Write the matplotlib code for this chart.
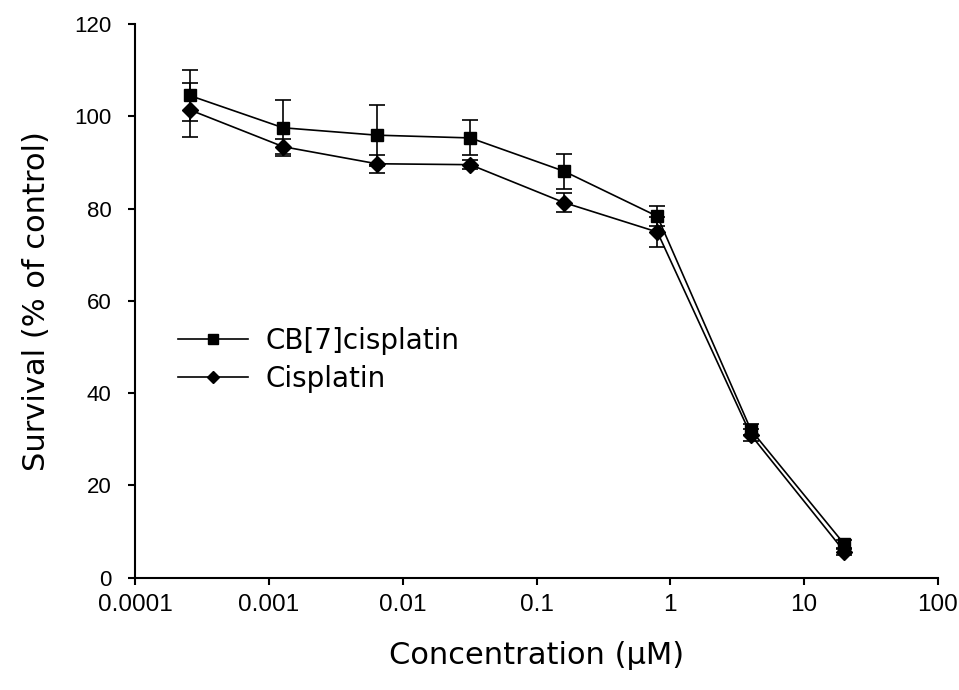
import matplotlib
matplotlib.use("Agg")
import matplotlib.pyplot as plt
from matplotlib.ticker import FixedLocator, FixedFormatter, NullLocator

conc = [0.000256, 0.00128, 0.0064, 0.032, 0.16, 0.8, 4, 20]
cb7_mean = [104.5, 97.5, 95.9, 95.3, 88.1, 78.3, 32.0, 7.2]
cb7_err = [5.5, 6.1, 6.6, 3.8, 3.8, 2.2, 1.2, 1.0]
cis_mean = [101.4, 93.4, 89.7, 89.5, 81.3, 74.9, 30.9, 5.6]
cis_err = [5.9, 1.6, 1.9, 1.0, 2.0, 3.2, 1.2, 0.8]
xticks = [0.0001, 0.001, 0.01, 0.1, 1, 10, 100]
xticklabels = ["0.0001", "0.001", "0.01", "0.1", "1", "10", "100"]
yticks = [0, 20, 40, 60, 80, 100, 120]

fig = plt.figure(figsize=(9.59, 6.9), dpi=100)
ax = fig.add_axes([135 / 959, 1 - 577.5 / 690, 803 / 959, (577.5 - 24) / 690])

common = dict(color="black", lw=1.2, elinewidth=1.2, capsize=6, capthick=1.2)
ax.errorbar(conc, cb7_mean, yerr=cb7_err, marker="s", ms=9, label="CB[7]cisplatin", **common)
ax.errorbar(conc, cis_mean, yerr=cis_err, marker="D", ms=8, label="Cisplatin", **common)

ax.set_xscale("log")
ax.set_xlim(0.0001, 100)
ax.set_ylim(0, 120)
ax.xaxis.set_major_locator(FixedLocator(xticks))
ax.xaxis.set_major_formatter(FixedFormatter(xticklabels))
ax.xaxis.set_minor_locator(NullLocator())
ax.set_yticks(yticks)

for s in ["top", "right"]:
    ax.spines[s].set_visible(False)
for s in ["left", "bottom"]:
    ax.spines[s].set_linewidth(1.5)
ax.tick_params(axis="both", direction="out", length=5, width=1.5, colors="black")
ax.tick_params(axis="x", pad=7, labelsize=17.5)
ax.tick_params(axis="y", pad=12, labelsize=16)
for lab in ax.get_xticklabels() + ax.get_yticklabels():
    lab.set_fontfamily("Liberation Sans")

ax.set_xlabel("Concentration (µM)", fontsize=22, family="DejaVu Sans", labelpad=18)
ax.set_ylabel("Survival (% of control)", fontsize=22, family="DejaVu Sans", labelpad=17)

handles, labels = ax.get_legend_handles_labels()
handles = [h[0] for h in handles]
leg = ax.legend(handles, labels, loc="center left", bbox_to_anchor=(0.054, 0.393),
                frameon=False, handlelength=2.5, handletextpad=0.65,
                borderpad=0, borderaxespad=0,
                labelspacing=0.35, markerscale=0.8, prop={"family": "DejaVu Sans", "size": 20})

fig.savefig("out.png", dpi=100)
